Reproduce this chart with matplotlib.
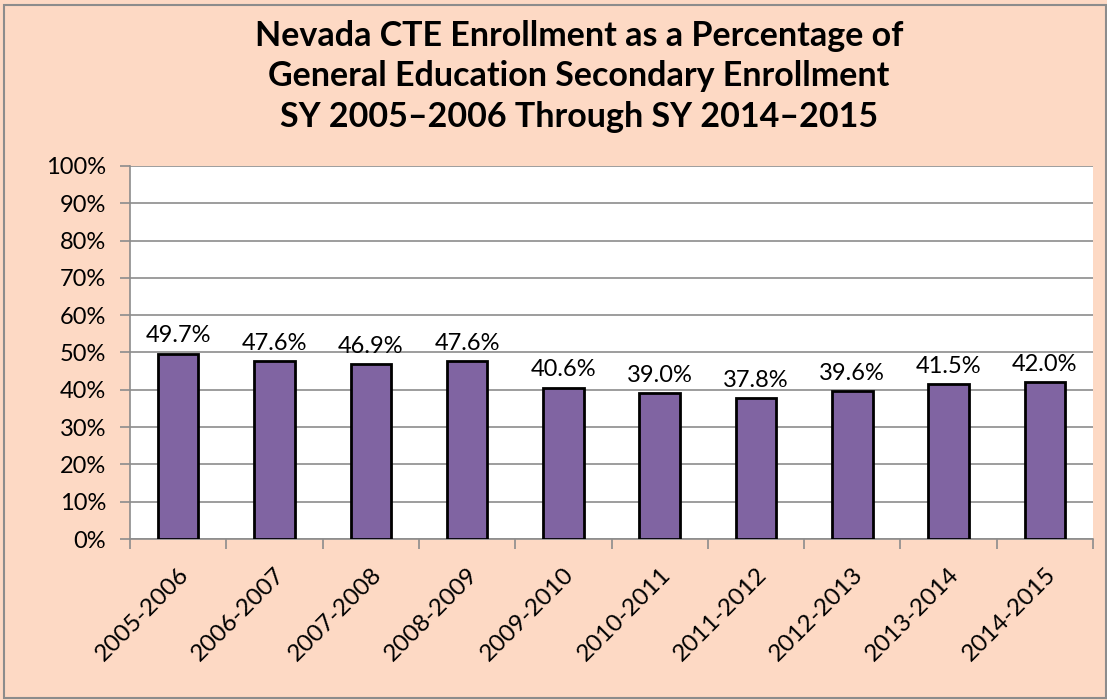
import numpy as np
import matplotlib.pyplot as plt
from matplotlib.patches import Rectangle

# school years and CTE share of enrollment (%)
years = ["2005-2006", "2006-2007", "2007-2008", "2008-2009", "2009-2010",
         "2010-2011", "2011-2012", "2012-2013", "2013-2014", "2014-2015"]
pct = [49.7, 47.6, 46.9, 47.6, 40.6, 39.0, 37.8, 39.6, 41.5, 42.0]
yticks = [0, 10, 20, 30, 40, 50, 60, 70, 80, 90, 100]

plt.rcParams['font.family'] = ['Lato', 'DejaVu Sans']

bg = "#FDD9C4"
fig = plt.figure(figsize=(11.07, 7), dpi=100, facecolor=bg)
fig.patches.append(Rectangle((0.004, 0.003), 0.995, 0.99, transform=fig.transFigure,
                             fill=False, edgecolor="#8c8c8c", linewidth=1.5))

ax = fig.add_axes([0.1174, 0.23, 0.870, 0.533])
ax.set_facecolor("white")

x = np.arange(len(years))
bars = ax.bar(x, pct, width=0.42, color="#8064A2", edgecolor="black", linewidth=2, zorder=3)

for xi, v in zip(x, pct):
    ax.text(xi, v + 2, "%.1f%%" % v, ha="center", va="bottom", fontsize=17)

ax.set_ylim(0, 100)
ax.set_xlim(-0.5, len(years) - 0.5)
ax.set_yticks(yticks)
ax.set_yticklabels(["%d%%" % t for t in yticks], fontsize=17)
ax.yaxis.grid(True, color="#8c8c8c", linewidth=1.2, zorder=0)
ax.tick_params(axis="y", length=7, color="#8c8c8c", width=1.2, pad=10)

# category labels with tick marks at the boundaries
ax.set_xticks(x)
ax.set_xticklabels(years, rotation=45, ha="right", rotation_mode="anchor", fontsize=17.5)
ax.tick_params(axis="x", which="major", length=0, pad=18)
ax.set_xticks(np.arange(len(years) + 1) - 0.5, minor=True)
ax.tick_params(axis="x", which="minor", length=7, color="#8c8c8c", width=1.2)

for s in ["top", "right"]:
    ax.spines[s].set_visible(False)
for s in ["left", "bottom"]:
    ax.spines[s].set_color("#8c8c8c")
    ax.spines[s].set_linewidth(1.2)

fig.text(0.523, 0.972, "Nevada CTE Enrollment as a Percentage of\nGeneral Education Secondary Enrollment\nSY 2005\u20132006 Through SY 2014\u20132015",
         ha="center", va="top", fontsize=24.5, fontweight="bold", linespacing=1.33)

plt.savefig("out.png", dpi=100, facecolor=bg)
